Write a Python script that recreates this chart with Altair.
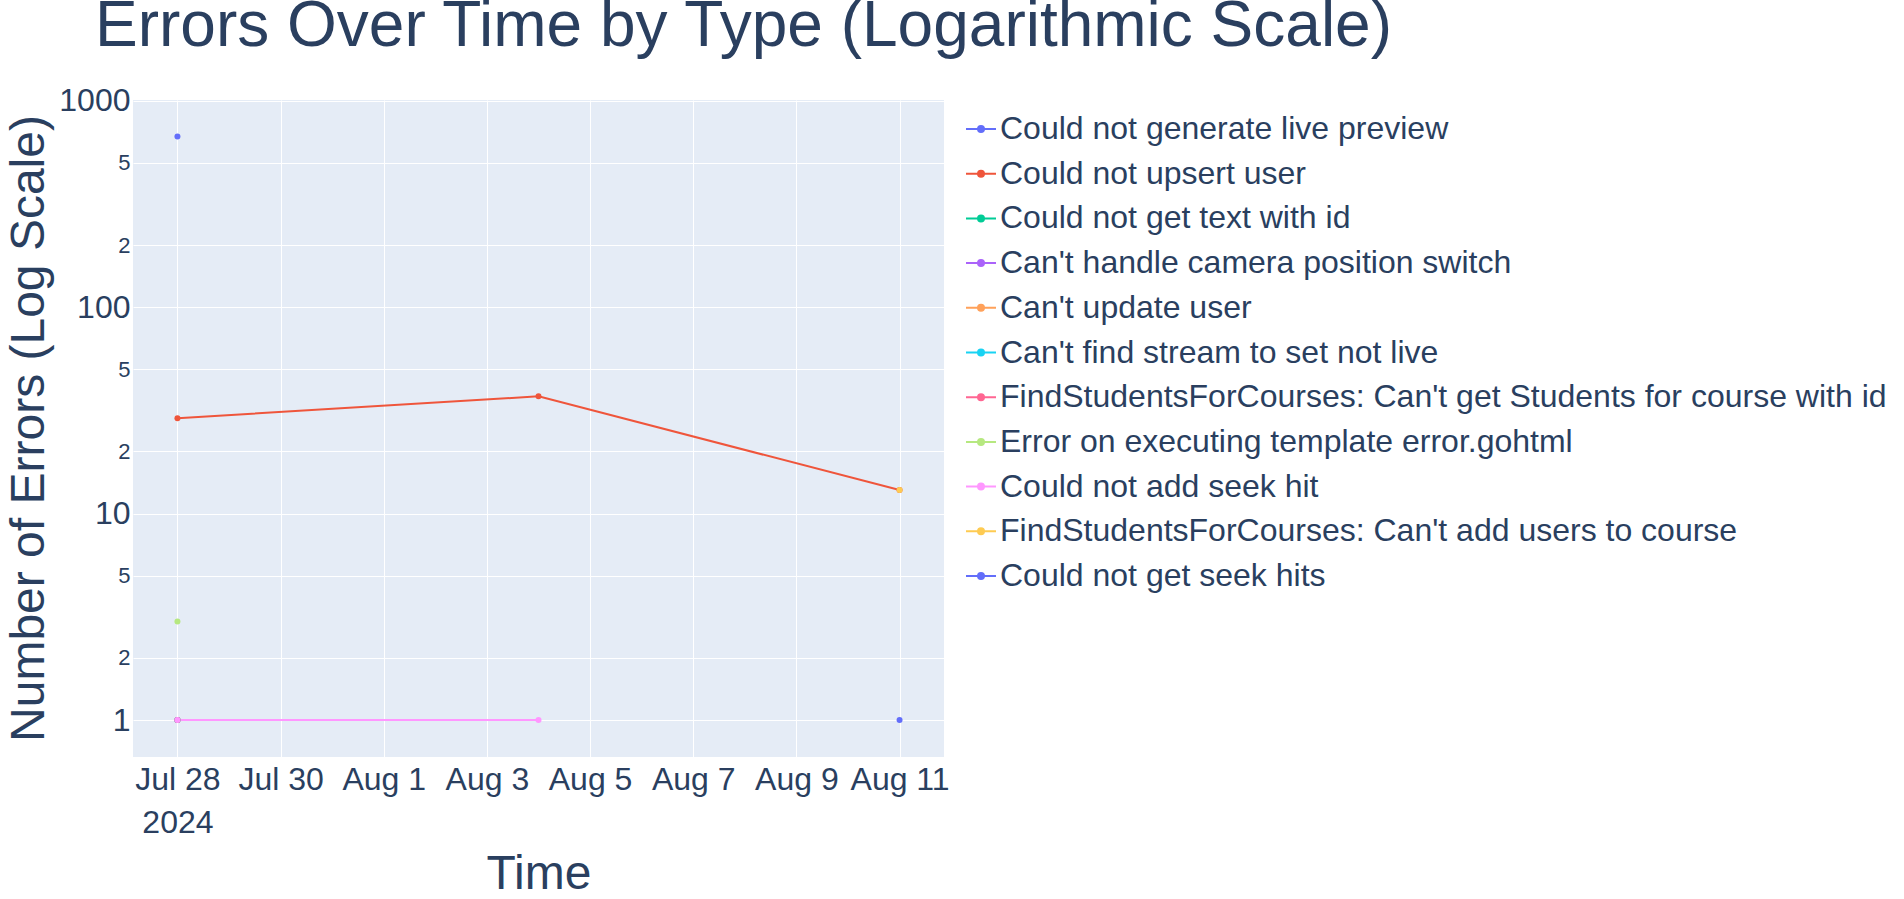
import altair as alt
import pandas as pd

# ---- data ----
error_types = [
    "Could not generate live preview",
    "Could not upsert user",
    "Could not get text with id",
    "Can't handle camera position switch",
    "Can't update user",
    "Can't find stream to set not live",
    "FindStudentsForCourses: Can't get Students for course with id",
    "Error on executing template error.gohtml",
    "Could not add seek hit",
    "FindStudentsForCourses: Can't add users to course",
    "Could not get seek hits",
]
type_colors = ["#636EFA", "#EF553B", "#00CC96", "#AB63FA", "#FFA15A", "#19D3F3",
               "#FF6692", "#B6E880", "#FF97FF", "#FECB52", "#636EFA"]

times = ["2024-07-28", "2024-07-28", "2024-08-04", "2024-08-11",
         "2024-07-28", "2024-07-28", "2024-07-28", "2024-07-28", "2024-07-28",
         "2024-07-28", "2024-07-28", "2024-08-04", "2024-08-11", "2024-08-11"]
types = [error_types[0], error_types[1], error_types[1], error_types[1],
         error_types[2], error_types[3], error_types[4], error_types[5], error_types[6],
         error_types[7], error_types[8], error_types[8], error_types[9], error_types[10]]
counts = [670, 29, 37, 13,
          1, 1, 1, 1, 1,
          3, 1, 1, 13, 1]

y_ticks = [1, 2, 5, 10, 20, 50, 100, 200, 500, 1000]

df = pd.DataFrame({"Time": times, "Type": types, "Errors": counts})

TXT = "#2a3f5f"

x_vals = [alt.DateTime(year=2024, month=7, date=28, utc=True),
          alt.DateTime(year=2024, month=7, date=30, utc=True),
          alt.DateTime(year=2024, month=8, date=1, utc=True),
          alt.DateTime(year=2024, month=8, date=3, utc=True),
          alt.DateTime(year=2024, month=8, date=5, utc=True),
          alt.DateTime(year=2024, month=8, date=7, utc=True),
          alt.DateTime(year=2024, month=8, date=9, utc=True),
          alt.DateTime(year=2024, month=8, date=11, utc=True)]

x_enc = alt.X(
    "Time:T",
    scale=alt.Scale(type="utc", nice=False,
                    domain=[alt.DateTime(year=2024, month=7, date=27, hours=3, minutes=19, utc=True),
                            alt.DateTime(year=2024, month=8, date=11, hours=20, minutes=41, utc=True)]),
    axis=alt.Axis(
        values=x_vals,
        labelExpr="(utcmonth(datum.value) == 6 && utcdate(datum.value) == 28) ? [utcFormat(datum.value, '%b %-d'), utcFormat(datum.value, '%Y')] : utcFormat(datum.value, '%b %-d')",
        labelFontSize=32, labelColor=TXT, labelLineHeight=43, labelPadding=7,
        labelOverlap=False, labelFlush=False,
        ticks=False, domain=False, gridColor="white", gridWidth=1,
        title="Time", titleFontSize=48, titleFontWeight="normal", titleColor=TXT,
        titleBaseline="alphabetic", titleY=131,
    ),
)

major = "datum.value == 1 || datum.value == 10 || datum.value == 100 || datum.value == 1000"
y_enc = alt.Y(
    "Errors:Q",
    scale=alt.Scale(type="log", domain=[0.662, 1008], nice=False),
    axis=alt.Axis(
        values=y_ticks,
        labelExpr="(" + major + ") ? toString(datum.value) : substring(toString(datum.value), 0, 1)",
        labelFontSize={"condition": {"test": major, "value": 32}, "value": 22},
        labelColor=TXT, labelPadding=3, labelOverlap=False, labelFlush=False,
        ticks=False, domain=False, gridColor="white", gridWidth=1,
        title="Number of Errors (Log Scale)", titleFontSize=48, titleFontWeight="normal",
        titleColor=TXT, titleBaseline="alphabetic", titleX=-90, titleY=328,
    ),
)

color_enc = alt.Color(
    "Type:N",
    scale=alt.Scale(domain=error_types, range=type_colors),
    legend=alt.Legend(
        title=None, orient="none", legendX=832, legendY=13,
        symbolType="M -1 0 L 1 0 M 0.2 0 A 0.2 0.2 0 1 1 -0.2 0 A 0.2 0.2 0 1 1 0.2 0 Z",
        symbolSize=900, symbolStrokeWidth=2, symbolOpacity=1,
        labelFontSize=32, labelColor=TXT, labelLimit=2000, labelOffset=3,
        rowPadding=12.7, padding=0,
    ),
)

lines = alt.Chart(df).mark_line(strokeWidth=2).encode(x=x_enc, y=y_enc, color=color_enc, detail="Type:N")
points = alt.Chart(df).mark_point(filled=True, size=36, opacity=1).encode(x=x_enc, y=y_enc, color=color_enc)

chart = alt.layer(lines, points).properties(
    width=811, height=657,
    autosize=alt.AutoSizeParams(type="none"),
    padding={"left": 133, "top": 100, "right": 960, "bottom": 142},
    title=alt.Title("Errors Over Time by Type (Logarithmic Scale)", anchor="start", frame="group",
                    fontSize=64, fontWeight="normal", color=TXT, dx=-38, offset=26),
).configure(font="Liberation Sans", background="white").configure_view(
    fill="#E5ECF6", stroke=None
)

chart.save("out.html", embed_options={"renderer": "svg", "actions": False})
